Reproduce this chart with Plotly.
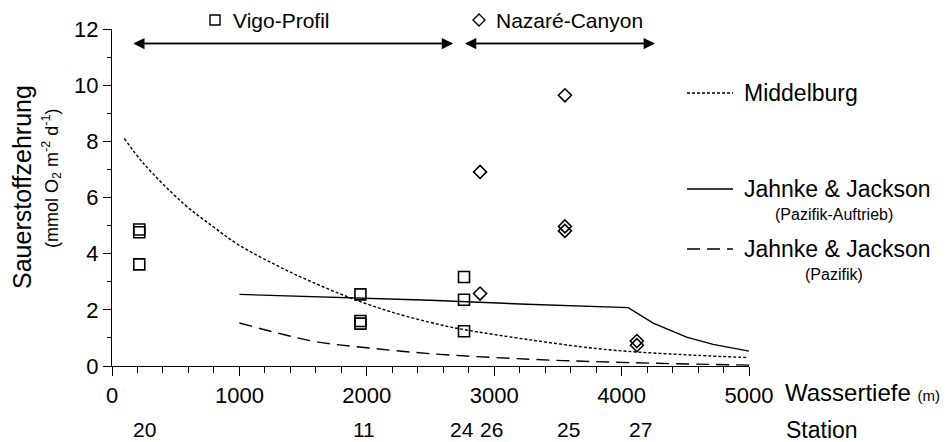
import plotly.graph_objects as go

# ---- data ----
vigo_depth = [214, 214, 214, 1950, 1950, 1950, 2763, 2763, 2763]
vigo_rate = [4.86, 4.76, 3.62, 2.55, 1.60, 1.51, 3.17, 2.36, 1.24]

naz_depth = [2889, 2889, 3555, 3555, 3555, 4120, 4120]
naz_rate = [6.91, 2.58, 9.64, 4.97, 4.81, 0.89, 0.74]

mid_depth = [97, 248, 562, 797, 998, 1294, 1555, 1869, 2209, 2575, 2758, 3282, 3804, 4118, 4588, 4993]
mid_rate = [8.10, 7.21, 5.78, 4.95, 4.30, 3.58, 3.02, 2.43, 1.90, 1.47, 1.30, 0.93, 0.62, 0.50, 0.38, 0.30]

jja_depth = [1000, 2496, 3255, 4052, 4248, 4510, 4718, 5000]
jja_rate = [2.55, 2.34, 2.20, 2.08, 1.53, 1.03, 0.77, 0.53]

jjp_depth = [1000, 1294, 1608, 2000, 2496, 3280, 4065, 5000]
jjp_rate = [1.53, 1.18, 0.86, 0.65, 0.44, 0.24, 0.12, 0.03]

station_depth = [253, 1980, 2745, 2980, 3587, 4149]
station_labels = ["20", "11", "24", "26", "25", "27"]

# ---- figure geometry (pixels) ----
W, H = 947, 442
L, R, T, B = 112, 749, 29, 366
PW, PH = R - L, B - T


def px(x):
    return (x - L) / PW


def py(y):
    return (B - y) / PH


FONT = "Arial, Liberation Sans, sans-serif"

fig = go.Figure()

fig.add_trace(go.Scatter(x=mid_depth, y=mid_rate, mode="lines", line_shape="spline",
                         line=dict(color="black", width=1.4, dash="3px,2px"), showlegend=False))
fig.add_trace(go.Scatter(x=jja_depth, y=jja_rate, mode="lines",
                         line=dict(color="black", width=1.4), showlegend=False))
fig.add_trace(go.Scatter(x=jjp_depth, y=jjp_rate, mode="lines", line_shape="spline",
                         line=dict(color="black", width=1.4, dash="13px,7px"), showlegend=False))
fig.add_trace(go.Scatter(x=vigo_depth, y=vigo_rate, mode="markers",
                         marker=dict(symbol="square-open", size=11, color="black", line=dict(width=1.6)),
                         showlegend=False, cliponaxis=False))
fig.add_trace(go.Scatter(x=naz_depth, y=naz_rate, mode="markers",
                         marker=dict(symbol="diamond-open", size=10, color="black", line=dict(width=1.6)),
                         showlegend=False, cliponaxis=False))

annotations = []
shapes = []

# range arrows
for x0, x1 in [(167, 2677), (2771, 4261)]:
    for a, b in [(x0, x1), (x1, x0)]:
        annotations.append(dict(x=b, y=11.48, ax=a, ay=11.48, xref="x", yref="y", axref="x", ayref="y",
                                text="", showarrow=True, arrowhead=2, arrowsize=1.5, arrowwidth=1.5,
                                arrowcolor="black"))

# header keys
shapes.append(dict(type="rect", xref="paper", yref="paper",
                   x0=px(210), x1=px(220), y0=py(25), y1=py(15), line=dict(color="black", width=1.4)))
annotations.append(dict(x=px(231), y=py(20), xref="paper", yref="paper", text="Vigo-Profil",
                        showarrow=False, xanchor="left", yanchor="middle", font=dict(size=21)))
cx, cy = 479, 20
shapes.append(dict(type="path", xref="paper", yref="paper",
                   path=f"M {px(cx-6)} {py(cy)} L {px(cx)} {py(cy-6)} L {px(cx+6)} {py(cy)} L {px(cx)} {py(cy+6)} Z",
                   line=dict(color="black", width=1.4)))
annotations.append(dict(x=px(494), y=py(20), xref="paper", yref="paper", text="Nazaré-Canyon",
                        showarrow=False, xanchor="left", yanchor="middle", font=dict(size=21)))

# right legend
leg = [
    (93, "3px,2px", "Middelburg", None),
    (189, "solid", "Jahnke & Jackson", "(Pazifik-Auftrieb)"),
    (249, "13px,7px", "Jahnke & Jackson", "(Pazifik)"),
]
for yy, dash, label, sub in leg:
    shapes.append(dict(type="line", xref="paper", yref="paper", x0=px(687), x1=px(733), y0=py(yy), y1=py(yy),
                       line=dict(color="black", width=1.3, dash=dash)))
    annotations.append(dict(x=px(742), y=py(yy), xref="paper", yref="paper", text=label, showarrow=False,
                            xanchor="left", yanchor="middle", font=dict(size=23)))
    if sub:
        annotations.append(dict(x=px(834), y=py(yy + 25), xref="paper", yref="paper", text=sub, showarrow=False,
                                xanchor="center", yanchor="middle", font=dict(size=16)))

# axis titles
annotations.append(dict(x=px(22), y=py(187), xref="paper", yref="paper", text="Sauerstoffzehrung",
                        textangle=-90, showarrow=False, xanchor="center", yanchor="middle", font=dict(size=25)))
annotations.append(dict(x=px(52), y=py(178), xref="paper", yref="paper",
                        text="(mmol O<sub>2</sub> m<sup>-2</sup> d<sup>-1</sup>)",
                        textangle=-90, showarrow=False, xanchor="center", yanchor="middle", font=dict(size=18)))
annotations.append(dict(x=px(783), y=py(392), xref="paper", yref="paper",
                        text="Wassertiefe <span style='font-size:15px'>(m)</span>",
                        showarrow=False, xanchor="left", yanchor="middle", font=dict(size=24)))
annotations.append(dict(x=px(822), y=py(430), xref="paper", yref="paper", text="Station",
                        showarrow=False, xanchor="center", yanchor="middle", font=dict(size=23)))
for sx, sl in zip(station_depth, station_labels):
    annotations.append(dict(x=sx, y=py(430), xref="x", yref="paper", text=sl,
                            showarrow=False, xanchor="center", yanchor="middle", font=dict(size=21)))

fig.update_layout(
    width=W, height=H,
    margin=dict(l=L, r=W - R, t=T, b=H - B, pad=0),
    paper_bgcolor="white", plot_bgcolor="white",
    font=dict(family=FONT, color="black", size=20),
    annotations=annotations, shapes=shapes,
    showlegend=False,
)
fig.update_xaxes(range=[0, 5000], showline=True, linecolor="black", linewidth=1.4, showgrid=False,
                 zeroline=False, ticks="outside", ticklen=9, tickwidth=1.4, tickcolor="black",
                 dtick=1000, tick0=0, tickfont=dict(size=22),
                 minor=dict(ticks="outside", ticklen=6, tickwidth=1.4, tickcolor="black", dtick=200, showgrid=False))
fig.update_yaxes(range=[0, 12], showline=True, linecolor="black", linewidth=1.4, showgrid=False,
                 zeroline=False, ticks="outside", ticklen=8, tickwidth=1.4, tickcolor="black",
                 dtick=2, tick0=0, tickfont=dict(size=22),
                 minor=dict(ticks="outside", ticklen=4, tickwidth=1.4, tickcolor="black", dtick=1, showgrid=False))

fig.write_html("out.html")
